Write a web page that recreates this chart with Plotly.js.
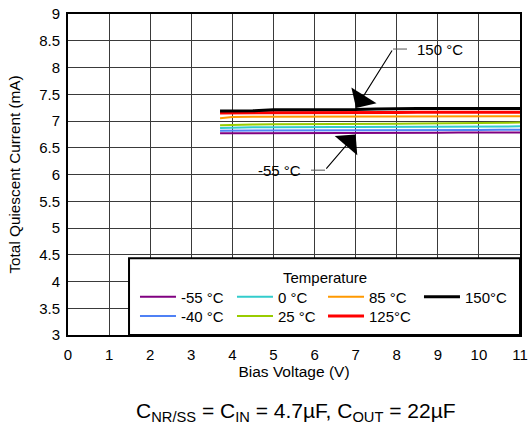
<!DOCTYPE html>
<html>
<head>
<meta charset="utf-8">
<script src="https://cdn.plot.ly/plotly-3.0.1.min.js"></script>
<style>html,body{margin:0;padding:0;background:#fff;}#chart{width:529px;height:425px;}</style>
</head>
<body>
<div id="chart"></div>
<script>
const biasV = [3.7, 4, 4.5, 5, 5.5, 6, 6.5, 7, 7.5, 8, 8.5, 9, 9.5, 10, 10.5, 11];
const temps = ["-55 °C", "-40 °C", "0 °C", "25 °C", "85 °C", "125°C", "150°C"];
const iqM55  = [6.77, 6.77, 6.77, 6.77, 6.77, 6.77, 6.775, 6.775, 6.775, 6.78, 6.78, 6.78, 6.785, 6.785, 6.785, 6.785];
const iqM40  = [6.82, 6.82, 6.82, 6.82, 6.82, 6.82, 6.82, 6.82, 6.825, 6.825, 6.825, 6.83, 6.83, 6.83, 6.835, 6.835];
const iq0    = [6.87, 6.88, 6.885, 6.885, 6.89, 6.89, 6.89, 6.89, 6.89, 6.895, 6.895, 6.9, 6.9, 6.9, 6.9, 6.9];
const iq25   = [6.92, 6.93, 6.935, 6.94, 6.94, 6.94, 6.945, 6.945, 6.95, 6.95, 6.955, 6.96, 6.96, 6.965, 6.97, 6.97];
const iq85   = [7.05, 7.075, 7.08, 7.08, 7.08, 7.08, 7.085, 7.085, 7.085, 7.09, 7.09, 7.09, 7.09, 7.09, 7.09, 7.09];
const iq125  = [7.15, 7.15, 7.155, 7.155, 7.155, 7.16, 7.16, 7.16, 7.16, 7.16, 7.165, 7.165, 7.165, 7.165, 7.165, 7.165];
const iq150  = [7.185, 7.185, 7.19, 7.21, 7.21, 7.21, 7.21, 7.215, 7.225, 7.235, 7.235, 7.235, 7.235, 7.235, 7.235, 7.235];
const series = [iqM55, iqM40, iq0, iq25, iq85, iq125, iq150];
const colors = ["#800080", "#4f81f5", "#33cccc", "#99cc00", "#ff9900", "#ff0000", "#000000"];
const widths = [2, 2, 2, 2, 2, 3, 3];
const xTicks = [0,1,2,3,4,5,6,7,8,9,10,11];
const yTicks = [3,3.5,4,4.5,5,5.5,6,6.5,7,7.5,8,8.5,9];

// legend slot for each series (column, row) in the boxed legend
const legCol = [0, 0, 1, 1, 2, 2, 3];
const legRow = [0, 1, 0, 1, 0, 1, 0];
const colX = [0.1482, 0.3628, 0.5642, 0.7765];
const rowY = [0.1698, 0.1097];

const FONT = 'Liberation Sans, Arial, sans-serif';
const legIds = series.map((s, i) => i === 0 ? 'legend' : 'legend' + (i + 1));

const traces = series.map((s, i) => ({
  x: biasV, y: s, type: 'scatter', mode: 'lines', name: temps[i],
  line: {color: colors[i], width: widths[i]}, legend: legIds[i], showlegend: true
}));

const layout = {
  width: 529, height: 425,
  margin: {l: 68, r: 9, t: 14, b: 90},
  paper_bgcolor: '#fff', plot_bgcolor: '#fff',
  font: {family: FONT, size: 15, color: '#000'},
  showlegend: true,
  xaxis: {
    range: [0, 11], tickvals: xTicks, ticktext: xTicks.map(String),
    showgrid: true, gridcolor: '#3a3a3a', gridwidth: 1,
    showline: true, linecolor: '#000', linewidth: 2, mirror: true,
    ticks: '', zeroline: false, tickfont: {size: 15}, ticklabelstandoff: 5,
    automargin: false,
    title: {text: 'Bias Voltage (V)', font: {size: 15.5}, standoff: 2}
  },
  yaxis: {
    range: [3, 9], tickvals: yTicks, ticktext: yTicks.map(String),
    showgrid: true, gridcolor: '#3a3a3a', gridwidth: 1,
    showline: true, linecolor: '#000', linewidth: 2, mirror: true,
    ticks: '', zeroline: false, tickfont: {size: 15}, ticklabelstandoff: 3,
    automargin: false,
    title: {text: 'Total Quiescent Current (mA)', font: {size: 15.3}, standoff: 15}
  },
  shapes: [
    {type: 'rect', xref: 'paper', yref: 'paper', x0: 0.135, x1: 1.0, y0: 0, y1: 0.239,
     fillcolor: '#fff', line: {color: '#000', width: 2}, layer: 'above'},
    {type: 'line', xref: 'x', yref: 'y', x0: 7.91, y0: 8.345, x1: 8.25, y1: 8.345, line: {color: '#555', width: 1}},
    {type: 'line', xref: 'x', yref: 'y', x0: 5.914, y0: 6.081, x1: 6.255, y1: 6.081, line: {color: '#555', width: 1}}
  ],
  annotations: [
    {x: 7.01, y: 7.245, xref: 'x', yref: 'y', ax: 7.91, ay: 8.345, axref: 'x', ayref: 'y',
     text: '', showarrow: true, arrowhead: 1, arrowsize: 4.5, arrowwidth: 1.1, arrowcolor: '#000'},
    {x: 7.0, y: 6.75, xref: 'x', yref: 'y', ax: 6.255, ay: 6.081, axref: 'x', ayref: 'y',
     text: '', showarrow: true, arrowhead: 1, arrowsize: 4.5, arrowwidth: 1.1, arrowcolor: '#000'},
    {x: 8.45, y: 8.345, xref: 'x', yref: 'y', text: '150 °C', showarrow: false,
     xanchor: 'left', font: {size: 15}},
    {x: 5.72, y: 6.081, xref: 'x', yref: 'y', text: '-55 °C', showarrow: false,
     xanchor: 'right', font: {size: 15}},
    {x: 0.5686, y: 0.1785, xref: 'paper', yref: 'paper', text: 'Temperature', showarrow: false,
     xanchor: 'center', yanchor: 'middle', font: {size: 15}},
    {x: 0.505, y: -0.24, xref: 'paper', yref: 'paper', yanchor: 'middle',
     text: 'C<sub>NR/SS</sub> = C<sub>IN</sub> = 4.7µF, C<sub>OUT</sub> = 22µF',
     showarrow: false, font: {size: 21}}
  ]
};

legIds.forEach((id, i) => {
  layout[id] = {
    x: colX[legCol[i]], y: rowY[legRow[i]], xanchor: 'left', yanchor: 'top',
    orientation: 'v', bgcolor: 'rgba(0,0,0,0)', borderwidth: 0,
    itemwidth: 36, font: {size: 15, family: FONT, color: '#000'}
  };
});

Plotly.newPlot('chart', traces, layout, {displayModeBar: false, staticPlot: true});
</script>
</body>
</html>
